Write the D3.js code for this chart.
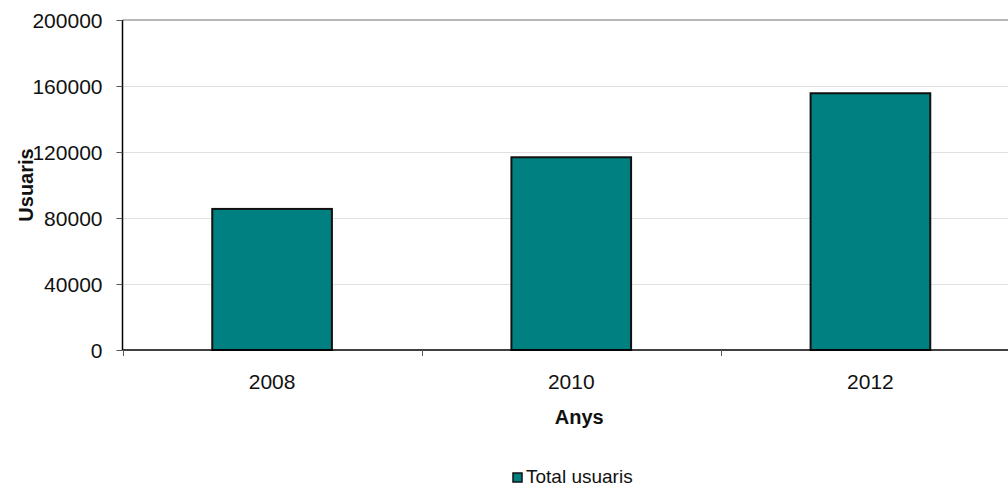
<!DOCTYPE html>
<html>
<head>
<meta charset="utf-8">
<script src="https://cdn.jsdelivr.net/npm/d3@7"></script>
<style>
  html, body { margin: 0; padding: 0; background: #fff; }
  svg { display: block; font-family: "Liberation Sans", Arial, sans-serif; }
</style>
</head>
<body>
<svg id="chart" width="1008" height="486"></svg>
<script>
const categories = ["2008", "2010", "2012"];
const values = [85500, 116800, 155600];
const yTicks = [0, 40000, 80000, 120000, 160000, 200000];
const seriesName = "Total usuaris";
const xTitle = "Anys";
const yTitle = "Usuaris";

(function () {
const svg = d3.select("#chart");
const pLeft = 122.5, pRight = 1020, pTop = 20, pBottom = 350;

const x = d3.scaleBand().domain(categories).range([pLeft, pRight])
  .paddingInner(0.6).paddingOuter(0.3);
const y = d3.scaleLinear().domain([0, 200000]).range([pBottom, pTop]);

// gridlines
svg.append("g").selectAll("line").data(yTicks.filter(d => d > 0 && d < 200000)).join("line")
  .attr("x1", pLeft).attr("x2", pRight)
  .attr("y1", d => Math.round(y(d)) + 0.5).attr("y2", d => Math.round(y(d)) + 0.5)
  .attr("stroke", "#e0e0e0").attr("stroke-width", 1);

// plot top border
svg.append("line").attr("x1", pLeft).attr("x2", pRight)
  .attr("y1", y(200000)).attr("y2", y(200000))
  .attr("stroke", "#b8b8b8").attr("stroke-width", 2);

// bars
svg.append("g").selectAll("rect").data(values).join("rect")
  .attr("x", (d, i) => x(categories[i]))
  .attr("y", d => y(d))
  .attr("width", x.bandwidth())
  .attr("height", d => y(0) - y(d))
  .attr("fill", "#008080")
  .attr("stroke", "#111").attr("stroke-width", 2);

// y axis
const yAxis = d3.axisLeft(y).tickValues(yTicks).tickSize(6).tickPadding(14).tickFormat(d3.format("d"));
const yg = svg.append("g").attr("transform", `translate(${pLeft},0)`).call(yAxis);
yg.select(".domain").attr("stroke", "#000").attr("stroke-width", 1.5).attr("d", `M0,${pTop}V${pBottom}`);
yg.selectAll(".tick line").attr("stroke", "#555");
yg.selectAll("text").attr("font-size", 21).attr("fill", "#111").attr("dy", "0.35em")
  .attr("font-family", "'Liberation Sans', Arial, sans-serif");

// x axis
const boundaries = categories.map(c => x(c) - x.step() * x.paddingOuter());
boundaries.push(pRight);
const xg = svg.append("g");
xg.append("line").attr("x1", pLeft).attr("x2", pRight).attr("y1", pBottom).attr("y2", pBottom)
  .attr("stroke", "#000").attr("stroke-width", 1.5);
xg.selectAll("line.tk").data(boundaries).join("line").attr("class", "tk")
  .attr("x1", d => Math.round(d) + 0.5).attr("x2", d => Math.round(d) + 0.5)
  .attr("y1", pBottom).attr("y2", pBottom + 6)
  .attr("stroke", "#555");
xg.selectAll("text").data(categories).join("text")
  .attr("x", d => x(d) + x.bandwidth() / 2).attr("y", 389)
  .attr("text-anchor", "middle").attr("font-size", 21).attr("fill", "#111")
  .text(d => d);

// axis titles
svg.append("text").attr("x", (pLeft + pRight) / 2 + 8).attr("y", 424)
  .attr("text-anchor", "middle").attr("font-size", 20).attr("font-weight", "bold").attr("fill", "#111")
  .text(xTitle);
svg.append("text").attr("transform", `translate(33,${(pTop + pBottom) / 2}) rotate(-90)`)
  .attr("text-anchor", "middle").attr("font-size", 20).attr("font-weight", "bold").attr("fill", "#111")
  .text(yTitle);

// legend
const lg = svg.append("g");
lg.append("rect").attr("x", 513).attr("y", 473).attr("width", 9).attr("height", 9)
  .attr("fill", "#008080").attr("stroke", "#111").attr("stroke-width", 1.5);
lg.append("text").attr("x", 526).attr("y", 483).attr("font-size", 19).attr("fill", "#111")
  .text(seriesName);
})();
</script>
</body>
</html>
